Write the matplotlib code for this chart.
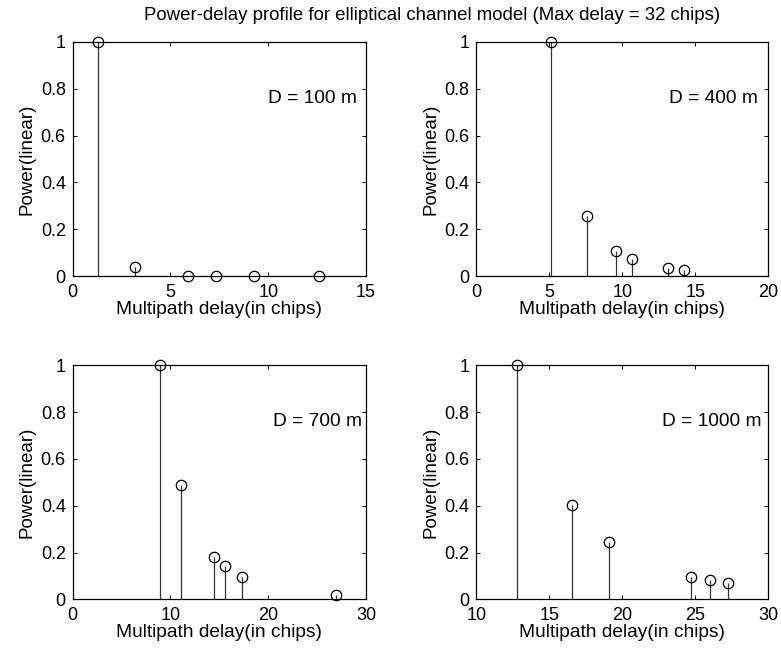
import matplotlib
matplotlib.use('Agg')
import matplotlib.pyplot as plt
from matplotlib.ticker import FormatStrFormatter

plt.rcParams['font.family'] = ['Liberation Sans', 'DejaVu Sans']

# delays (chips) and linear power per distance
delay_100 = [1.28, 3.17, 5.88, 7.35, 9.27, 12.6]
power_100 = [1.0, 0.041, 0.003, 0.001, 0.0005, 0.0002]

delay_400 = [5.14, 7.56, 9.59, 10.68, 13.1, 14.2]
power_400 = [1.0, 0.257, 0.109, 0.075, 0.037, 0.027]

delay_700 = [8.93, 11.05, 14.49, 15.62, 17.35, 26.9]
power_700 = [1.0, 0.487, 0.181, 0.144, 0.095, 0.017]

delay_1000 = [12.79, 16.55, 19.09, 24.7, 25.98, 27.21]
power_1000 = [1.0, 0.405, 0.247, 0.095, 0.081, 0.071]

labels = ['D = 100 m', 'D = 400 m', 'D = 700 m', 'D = 1000 m']
xlims = [(0, 15), (0, 20), (0, 30), (10, 30)]
xticks = [[0, 5, 10, 15], [0, 5, 10, 15, 20], [0, 10, 20, 30], [10, 15, 20, 25, 30]]
label_x = [10.0, 13.2, 20.5, 22.7]

delays = [delay_100, delay_400, delay_700, delay_1000]
powers = [power_100, power_400, power_700, power_1000]

fig = plt.figure(figsize=(7.81, 6.53), dpi=100)
W, H = 781, 653
# axes boxes in pixels: left, right, top, bottom
boxes = [(72.7, 366, 41.7, 276.3), (476.3, 768.3, 41.7, 276.3),
         (72.7, 366, 365.3, 599.3), (476.3, 768.3, 365.3, 599.3)]

fs = 13
for i in range(4):
    l, r, t, b = boxes[i]
    ax = fig.add_axes([l / W, 1 - b / H, (r - l) / W, (b - t) / H])
    ml, sl, bl = ax.stem(delays[i], powers[i], linefmt='k-', markerfmt='ko', basefmt=' ')
    plt.setp(sl, linewidth=0.9, color='#333333')
    plt.setp(ml, markerfacecolor='none', markeredgecolor='black', markersize=7.5, markeredgewidth=0.9)
    ml.set_clip_on(False)
    ax.set_xlim(*xlims[i])
    ax.set_xticks(xticks[i])
    ax.set_ylim(0, 1)
    ax.set_yticks([0, 0.2, 0.4, 0.6, 0.8, 1.0])
    ax.xaxis.set_major_formatter(FormatStrFormatter('%g'))
    ax.yaxis.set_major_formatter(FormatStrFormatter('%g'))
    ax.tick_params(direction='in', top=True, right=True, labelsize=fs, length=3, width=0.7)
    ax.tick_params(axis='x', pad=5.5)
    ax.tick_params(axis='y', pad=5)
    for s in ax.spines.values():
        s.set_linewidth(0.9)
    ax.set_xlabel('Multipath delay(in chips)', fontsize=13.8, labelpad=0)
    ax.set_ylabel('Power(linear)', fontsize=13.5, labelpad=3.5)
    ax.text(label_x[i], 0.76, labels[i], fontsize=13.8, va='center', ha='left')

fig.text(432 / W, 1 - 15 / H, 'Power-delay profile for elliptical channel model (Max delay = 32 chips)',
         ha='center', va='center', fontsize=13.4)

plt.savefig('out.png', dpi=100)
